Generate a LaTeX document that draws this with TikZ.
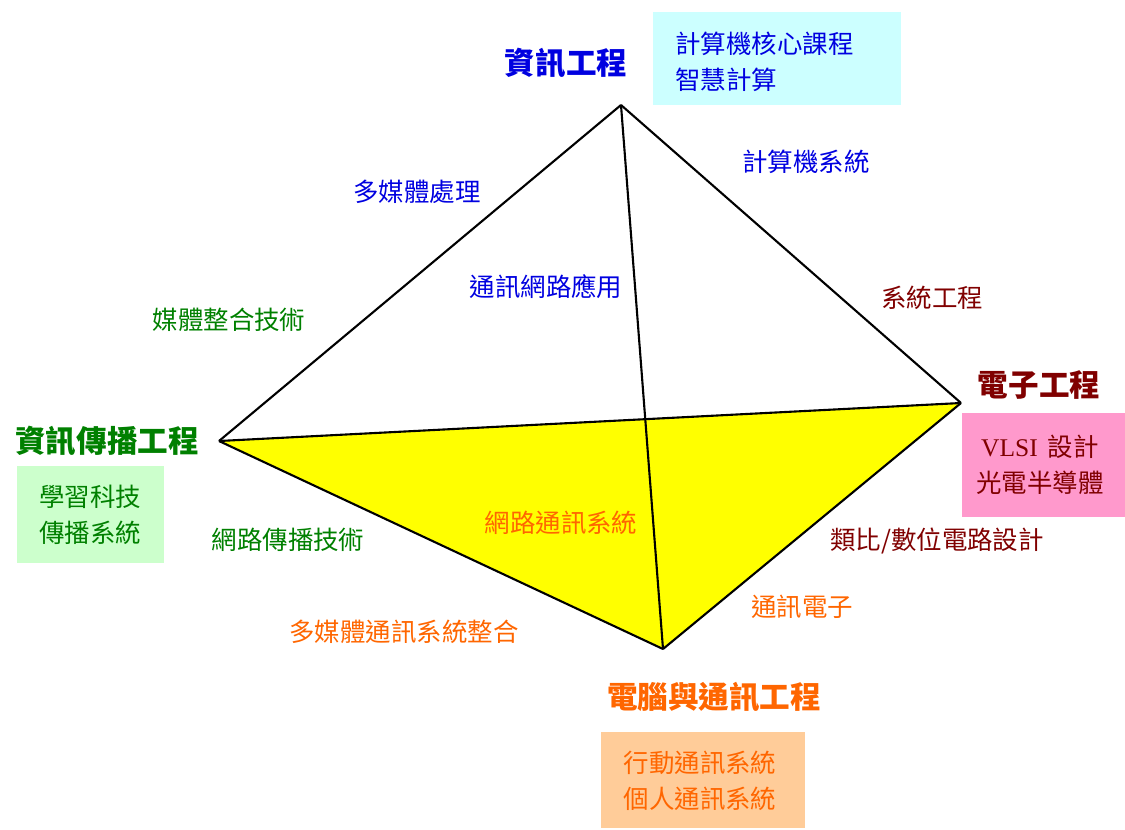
\documentclass[tikz,border=0pt]{standalone}
\usepackage{fontspec}
\setmainfont{Noto Sans CJK TC}
\newfontfamily\latin{Liberation Serif}
\usepackage{xcolor}
\definecolor{infoblue}{HTML}{0000E0}
\definecolor{cyanbox}{HTML}{CCFFFF}
\definecolor{commgreen}{HTML}{008000}
\definecolor{greenbox}{HTML}{CCFFCC}
\definecolor{elecred}{HTML}{800000}
\definecolor{pinkbox}{HTML}{FF99CC}
\definecolor{netorange}{HTML}{FF6600}
\definecolor{peachbox}{HTML}{FFCC99}
\definecolor{faceyellow}{HTML}{FFFF00}

\begin{document}
\begin{tikzpicture}[x=0.02cm, y=-0.02cm,
  field/.style={font=\fontsize{17.4}{20}\selectfont\bfseries, inner sep=0pt},
  topic/.style={font=\fontsize{14.5}{20}\selectfont, inner sep=0pt},
  course/.style={font=\fontsize{14.5}{20.5}\selectfont, align=center, inner sep=0pt},
  edge/.style={line width=1.2pt, line join=round}]
\useasboundingbox (0,0) rectangle (1125,829);

% corners of the pyramid
\coordinate (ie) at (621,105);
\coordinate (icom) at (219,441);
\coordinate (ee) at (961,403);
\coordinate (cce) at (663,649);

% lower face
\fill[faceyellow] (icom) -- (ee) -- (cce) -- cycle;

% course boxes
\fill[cyanbox] (653,12) rectangle (901,105);
\fill[greenbox] (17,466) rectangle (164,563);
\fill[pinkbox] (962,413) rectangle (1125,517);
\fill[peachbox] (601,732) rectangle (805,828);

\draw[edge] (ie) -- (icom);
\draw[edge] (ie) -- (ee);
\draw[edge] (ie) -- (cce);
\draw[edge] (icom) -- (ee);
\draw[edge] (icom) -- (cce);
\draw[edge] (ee) -- (cce);

% department names
\node (lie) [field, text=infoblue] at (566,63) {資訊工程};
\node (lee) [field, text=elecred] at (1039,385) {電子工程};
\node (licom) [field, text=commgreen] at (107,441) {資訊傳播工程};
\node (lcce) [field, text=netorange] at (714,697) {電腦與通訊工程};

% box contents
\node (cie) [course, text=infoblue, align=left, anchor=west] at (675,62) {計算機核心課程\\智慧計算};
\node (cicom) [course, text=commgreen] at (90,515) {學習科技\\傳播系統};
\node (cee) [course, text=elecred] at (1040,465) {{\latin VLSI}\hspace{0.4em}設計\\光電半導體};
\node (ccce) [course, text=netorange] at (700,781) {行動通訊系統\\個人通訊系統};

% topics along the edges
\node (tcs) [topic, text=infoblue] at (806,162) {計算機系統};
\node (tmm) [topic, text=infoblue] at (417,192) {多媒體處理};
\node (tnet) [topic, text=infoblue] at (546,287) {通訊網路應用};
\node (tsys) [topic, text=elecred] at (932,298) {系統工程};
\node (tmedia) [topic, text=commgreen] at (229,320) {媒體整合技術};
\node (tweb) [topic, text=commgreen] at (288,540) {網路傳播技術};
\node (tnsys) [topic, text=netorange] at (561,523) {網路通訊系統};
\node (tcirc) [topic, text=elecred] at (937,541) {類比/數位電路設計};
\node (tcel) [topic, text=netorange] at (802,607) {通訊電子};
\node (tmmc) [topic, text=netorange] at (404,632) {多媒體通訊系統整合};

\end{tikzpicture}
\end{document}
